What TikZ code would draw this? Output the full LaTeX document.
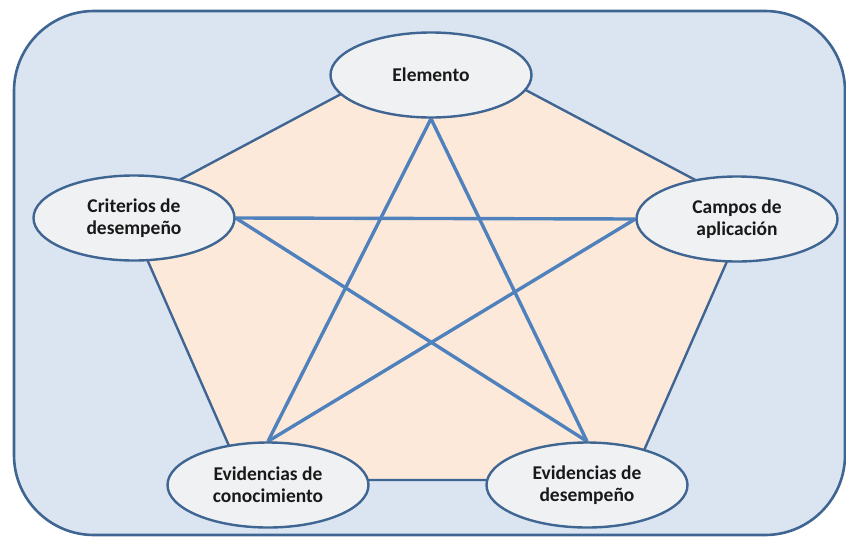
\documentclass[tikz,border=0pt]{standalone}
\usepackage{fontspec}
\setmainfont{Carlito}
\usetikzlibrary{shapes.geometric}
\definecolor{outerfill}{HTML}{DBE5F1}
\definecolor{darkline}{HTML}{3F6592}
\definecolor{peach}{HTML}{FDE9DA}
\definecolor{starblue}{HTML}{4F81BD}
\definecolor{ellfill}{HTML}{F0F1F3}
\pgfdeclarelayer{bg}
\pgfsetlayers{bg,main}
\tikzset{
  ell/.style={ellipse, draw=darkline, line width=2.4pt, fill=ellfill,
    minimum width=201pt, minimum height=85pt, inner sep=0pt,
    align=center, font=\fontsize{19.5}{22}\selectfont\bfseries, text=black!90},
  starline/.style={draw=starblue, line width=3.4pt},
}
\begin{document}
\begin{tikzpicture}[x=1pt,y=-1pt]
\useasboundingbox (0,0) rectangle (846,536);
% nodes
\node[ell] (elem) at (431,75) {Elemento};
\node[ell] (crit) at (134,218) {Criterios de\\desempeño};
\node[ell] (camp) at (737,219) {Campos de\\aplicación};
\node[ell] (evc) at (268,485) {Evidencias de\\conocimiento};
\node[ell] (evd) at (587,485) {Evidencias de\\desempeño};
\begin{pgfonlayer}{bg}
  \fill[white] (0,0) rectangle (846,536);
  \draw[darkline, line width=2.6pt, fill=outerfill, rounded corners=80pt]
    (14,11) rectangle (845,535);
  \coordinate (pT) at (437,43);
  \coordinate (pR) at (750,209);
  \coordinate (pBR) at (631,480);
  \coordinate (pBL) at (244,480);
  \coordinate (pL) at (125,209);
  \draw[darkline, line width=2.4pt, fill=peach, line join=miter]
    (pT) -- (pR) -- (pBR) -- (pBL) -- (pL) -- cycle;
  \draw[starline] (elem.south) -- (evc.north);
  \draw[starline] (elem.south) -- (evd.north);
  \draw[starline] (crit.east) -- (camp.west);
  \draw[starline] (crit.east) -- (evd.north);
  \draw[starline] (camp.west) -- (evc.north);
\end{pgfonlayer}
\end{tikzpicture}
\end{document}
